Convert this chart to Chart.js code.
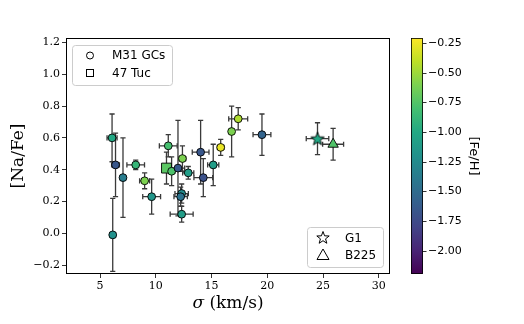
<!DOCTYPE html>
<html lang="en">
<head>
<meta charset="UTF-8">
<title>[Na/Fe] vs sigma</title>
<style>
  html, body { margin: 0; padding: 0; background: #fff; }
  #wrap { width: 524px; height: 324px; }
</style>
</head>
<body>
<div id="wrap"><canvas id="naChart" width="524" height="324"></canvas></div>
<script src="https://cdn.jsdelivr.net/npm/chart.js"></script>
<script>
// M31 globular clusters
const gcSigma    = [6.08, 6.39, 6.14, 7.06, 8.2, 9.0, 9.63, 11.12, 11.42, 11.99, 12.39, 12.91, 12.32, 12.23, 12.32, 14.02, 14.26, 15.15, 15.82, 16.8, 17.39, 19.52];
const gcSigmaErr = [0.45, 0.35, 0.25, 0.25, 0.79, 0.45, 0.8, 0.8, 0.3, 0.6, 0.3, 0.5, 0.6, 0.6, 1.03, 0.75, 0.84, 0.5, 0.3, 0.2, 0.85, 0.8];
const gcNaFe     = [0.60, 0.43, -0.01, 0.35, 0.43, 0.33, 0.23, 0.55, 0.39, 0.41, 0.47, 0.38, 0.25, 0.23, 0.12, 0.51, 0.35, 0.43, 0.54, 0.64, 0.72, 0.62];
const gcNaFeErr  = [0.15, 0.20, 0.23, 0.25, 0.03, 0.05, 0.11, 0.07, 0.09, 0.30, 0.08, 0.04, 0.06, 0.06, 0.05, 0.20, 0.12, 0.13, 0.05, 0.16, 0.07, 0.13];
const gcFeH      = [-1.0, -1.66, -1.2, -1.36, -0.88, -0.6, -1.16, -0.8, -0.77, -1.64, -0.6, -1.1, -1.24, -1.44, -1.1, -1.66, -1.7, -1.1, -0.27, -0.6, -0.45, -1.56];

// 47 Tuc
const tucSigma = [10.96], tucSigmaErr = [0.3], tucNaFe = [0.41], tucNaFeErr = [0.1], tucFeH = [-0.72];
// G1
const g1Sigma = [24.5], g1SigmaErr = [1.01], g1NaFe = [0.595], g1NaFeErr = [0.1], g1FeH = [-1.0];
// B225
const b225Sigma = [25.9], b225SigmaErr = [0.94], b225NaFe = [0.56], b225NaFeErr = [0.1], b225FeH = [-0.76];

// axes
const xTicks = [5, 10, 15, 20, 25, 30];
const yTicks = [-0.2, 0.0, 0.2, 0.4, 0.6, 0.8, 1.0, 1.2];
const cbTicks = [-0.25, -0.5, -0.75, -1.0, -1.25, -1.5, -1.75, -2.0];
const xMin = 1.95, xMax = 31.0, yMin = -0.256, yMax = 1.228;
const cbMin = -2.195, cbMax = -0.208;

const SERIF = '"DejaVu Serif", serif';
const SANS = '"DejaVu Sans", sans-serif';

const viridisStops = ['#440154', '#482475', '#414487', '#355f8d', '#2a788e', '#21918c',
                      '#22a884', '#44bf70', '#7ad151', '#bddf26', '#fde725'];

function hexRgb(h) {
    return [parseInt(h.slice(1, 3), 16), parseInt(h.slice(3, 5), 16), parseInt(h.slice(5, 7), 16)];
}
function viridis(t) {
    t = Math.min(1, Math.max(0, t));
    const n = viridisStops.length - 1;
    const i = Math.min(n - 1, Math.floor(t * n));
    const f = t * n - i;
    const a = hexRgb(viridisStops[i]), b = hexRgb(viridisStops[i + 1]);
    const c = a.map((v, k) => Math.round(v + (b[k] - v) * f));
    return 'rgb(' + c.join(',') + ')';
}
function fehColor(v) { return viridis((v - cbMin) / (cbMax - cbMin)); }

function toPoints(xs, ys) { return xs.map((x, i) => ({ x: x, y: ys[i] })); }

function starPath(ctx, cx, cy, R, r) {
    ctx.beginPath();
    for (let k = 0; k < 10; k++) {
        const rad = k % 2 ? r : R;
        const a = -Math.PI / 2 + k * Math.PI / 5;
        const px = cx + rad * Math.cos(a), py = cy + rad * Math.sin(a);
        if (k) ctx.lineTo(px, py); else ctx.moveTo(px, py);
    }
    ctx.closePath();
}

// filled star marker for G1
const starImg = document.createElement('canvas');
starImg.width = 18; starImg.height = 18;
(function () {
    const c = starImg.getContext('2d');
    starPath(c, 9, 9.5, 7, 2.9);
    c.fillStyle = fehColor(g1FeH[0]);
    c.fill();
    c.lineWidth = 0.9;
    c.strokeStyle = '#000';
    c.stroke();
})();

function makeSet(label, xs, ys, xe, ye, feh, style, radius) {
    return {
        label: label,
        data: toPoints(xs, ys),
        xErr: xe,
        yErr: ye,
        pointStyle: style,
        pointRadius: radius,
        pointBackgroundColor: feh.map(fehColor),
        pointBorderColor: '#000',
        pointBorderWidth: 0.9,
        showLine: false
    };
}

// error bars drawn under the markers
const errorBars = {
    id: 'errorBars',
    beforeDatasetsDraw(chart) {
        const { ctx, scales: { x, y } } = chart;
        ctx.save();
        ctx.strokeStyle = '#3a3a3a';
        ctx.lineWidth = 1.3;
        const cap = 2.6;
        chart.data.datasets.forEach(ds => {
            ds.data.forEach((p, i) => {
                const px = x.getPixelForValue(p.x), py = y.getPixelForValue(p.y);
                const xl = x.getPixelForValue(p.x - ds.xErr[i]), xr = x.getPixelForValue(p.x + ds.xErr[i]);
                const yt = y.getPixelForValue(p.y + ds.yErr[i]), yb = y.getPixelForValue(p.y - ds.yErr[i]);
                ctx.beginPath();
                ctx.moveTo(xl, py); ctx.lineTo(xr, py);
                ctx.moveTo(xl, py - cap); ctx.lineTo(xl, py + cap);
                ctx.moveTo(xr, py - cap); ctx.lineTo(xr, py + cap);
                ctx.moveTo(px, yt); ctx.lineTo(px, yb);
                ctx.moveTo(px - cap, yt); ctx.lineTo(px + cap, yt);
                ctx.moveTo(px - cap, yb); ctx.lineTo(px + cap, yb);
                ctx.stroke();
            });
        });
        ctx.restore();
    }
};

function legendBox(ctx, x, y, w, h) {
    ctx.beginPath();
    ctx.roundRect(x, y, w, h, 3);
    ctx.fillStyle = 'rgba(255,255,255,0.8)';
    ctx.fill();
    ctx.strokeStyle = '#cccccc';
    ctx.lineWidth = 1;
    ctx.stroke();
}

// frame, titles, legends and colorbar
const decorations = {
    id: 'decorations',
    afterDraw(chart) {
        const { ctx, chartArea: a } = chart;
        const ds = chart.data.datasets;
        ctx.save();

        // frame
        ctx.strokeStyle = '#000';
        ctx.lineWidth = 1;
        ctx.strokeRect(a.left + 0.5, a.top + 0.5, a.right - a.left - 1, a.bottom - a.top - 1);

        // axis titles
        ctx.fillStyle = '#000';
        ctx.textBaseline = 'middle';
        ctx.font = 'italic 17px ' + SERIF;
        const s1 = 'σ', s2 = ' (km/s)';
        const w1 = ctx.measureText(s1).width;
        ctx.font = '17px ' + SERIF;
        const w2 = ctx.measureText(s2).width;
        const cx = (a.left + a.right) / 2, tx = cx - (w1 + w2) / 2;
        ctx.textAlign = 'left';
        ctx.font = 'italic 17px ' + SERIF;
        ctx.fillText(s1, tx, 304);
        ctx.font = '17px ' + SERIF;
        ctx.fillText(s2, tx + w1, 304);

        ctx.save();
        ctx.translate(19, (a.top + a.bottom) / 2);
        ctx.rotate(-Math.PI / 2);
        ctx.textAlign = 'center';
        ctx.fillText('[Na/Fe]', 0, 0);
        ctx.restore();

        // legend: M31 GCs / 47 Tuc
        legendBox(ctx, 72.5, 45.5, 100, 40);
        ctx.strokeStyle = '#000';
        ctx.lineWidth = 1;
        ctx.beginPath(); ctx.arc(90, 55.5, 3.5, 0, Math.PI * 2); ctx.stroke();
        ctx.strokeRect(86.5, 69.5, 7, 7);
        ctx.font = '12px ' + SANS;
        ctx.textAlign = 'left';
        ctx.fillStyle = '#000';
        ctx.fillText(ds[0].label, 112, 56);
        ctx.fillText(ds[1].label, 112, 73.5);

        // legend: G1 / B225
        legendBox(ctx, 307.5, 227.5, 76, 40);
        starPath(ctx, 323, 238, 6.5, 2.7);
        ctx.strokeStyle = '#000';
        ctx.stroke();
        ctx.beginPath();
        ctx.moveTo(323, 249); ctx.lineTo(329, 259.5); ctx.lineTo(317, 259.5); ctx.closePath();
        ctx.stroke();
        ctx.fillStyle = '#000';
        ctx.fillText(ds[2].label, 345, 238.5);
        ctx.fillText(ds[3].label, 345, 256);

        // colorbar
        const cbL = 411, cbR = 423;
        const cbY = v => a.bottom - (v - cbMin) / (cbMax - cbMin) * (a.bottom - a.top);
        const grad = ctx.createLinearGradient(0, a.bottom, 0, a.top);
        viridisStops.forEach((c, i) => grad.addColorStop(i / (viridisStops.length - 1), c));
        ctx.fillStyle = grad;
        ctx.fillRect(cbL, a.top, cbR - cbL, a.bottom - a.top);
        ctx.strokeStyle = '#000';
        ctx.lineWidth = 0.8;
        ctx.strokeRect(cbL + 0.5, a.top + 0.5, cbR - cbL - 1, a.bottom - a.top - 1);
        ctx.font = '11px ' + SANS;
        ctx.fillStyle = '#000';
        ctx.textAlign = 'left';
        cbTicks.forEach(v => {
            const yy = Math.round(cbY(v)) + 0.5;
            ctx.beginPath(); ctx.moveTo(cbR, yy); ctx.lineTo(cbR + 3.5, yy); ctx.stroke();
            ctx.fillText('−' + Math.abs(v).toFixed(2), cbR + 5, yy);
        });
        ctx.save();
        ctx.translate(473, (a.top + a.bottom) / 2);
        ctx.rotate(Math.PI / 2);
        ctx.textAlign = 'center';
        ctx.font = '13px ' + SANS;
        ctx.fillText('[Fe/H]', 0, 0);
        ctx.restore();

        ctx.restore();
    }
};

const ctx = document.getElementById('naChart').getContext('2d');
const naChart = new Chart(ctx, {
    type: 'scatter',
    data: {
        datasets: [
            makeSet('M31 GCs', gcSigma, gcNaFe, gcSigmaErr, gcNaFeErr, gcFeH, 'circle', 3.9),
            makeSet('47 Tuc', tucSigma, tucNaFe, tucSigmaErr, tucNaFeErr, tucFeH, 'rect', 7),
            makeSet('G1', g1Sigma, g1NaFe, g1SigmaErr, g1NaFeErr, g1FeH, starImg, 9),
            makeSet('B225', b225Sigma, b225NaFe, b225SigmaErr, b225NaFeErr, b225FeH, 'triangle', 6)
        ]
    },
    options: {
        responsive: false,
        animation: false,
        events: [],
        layout: { padding: { top: 38, right: 134, left: 0, bottom: 0 } },
        plugins: { legend: { display: false }, tooltip: { enabled: false } },
        scales: {
            x: {
                type: 'linear',
                min: xMin,
                max: xMax,
                afterBuildTicks: s => { s.ticks = xTicks.map(v => ({ value: v })); },
                afterFit: s => { s.height = 50; },
                ticks: {
                    autoSkip: false,
                    maxRotation: 0,
                    padding: 2,
                    color: '#000',
                    font: { family: SERIF, size: 11 },
                    callback: v => String(v)
                },
                grid: { drawOnChartArea: false, drawTicks: true, tickLength: 4, color: '#000', lineWidth: 0.8 },
                border: { display: false }
            },
            y: {
                type: 'linear',
                min: yMin,
                max: yMax,
                afterBuildTicks: s => { s.ticks = yTicks.map(v => ({ value: v })); },
                afterFit: s => { s.width = 66; },
                ticks: {
                    autoSkip: false,
                    padding: 2,
                    color: '#000',
                    font: { family: SERIF, size: 11 },
                    callback: v => (v < -1e-9 ? '−' : '') + Math.abs(v).toFixed(1)
                },
                grid: { drawOnChartArea: false, drawTicks: true, tickLength: 4, color: '#000', lineWidth: 0.8 },
                border: { display: false }
            }
        }
    },
    plugins: [errorBars, decorations]
});
</script>
</body>
</html>
